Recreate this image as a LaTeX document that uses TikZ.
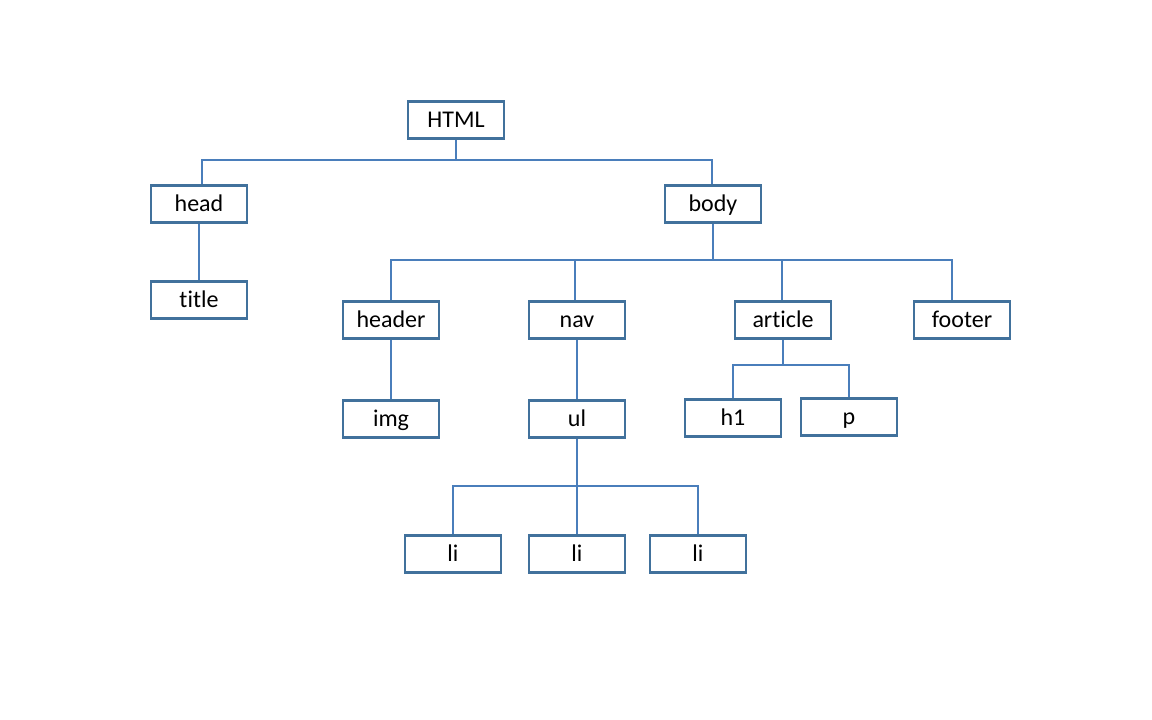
\documentclass[tikz,border=0pt]{standalone}
\usepackage{fontspec}
\setmainfont{Carlito}[RawFeature=-liga]
\definecolor{boxblue}{HTML}{41719C}
\definecolor{lineblue}{HTML}{4A7EBB}
\begin{document}
\begin{tikzpicture}[x=1pt,y=-1pt,
  tag/.style={draw=boxblue, line width=2.6pt, fill=white, minimum width=96pt, minimum height=37pt,
    inner sep=0pt, font=\fontsize{24}{28}\selectfont, text height=17pt, text depth=2pt},
  conn/.style={draw=lineblue, line width=1.1pt}]
\useasboundingbox (0,0) rectangle (1152,720);
\fill[white] (0,0) rectangle (1152,720);
% nodes
\node[tag] (html) at (456,120) {HTML};
\node[tag] (head) at (199,204) {head};
\node[tag] (body) at (713,204) {body};
\node[tag] (title) at (199,300) {title};
\node[tag] (header) at (391,320) {header};
\node[tag] (nav) at (577,320) {nav};
\node[tag] (article) at (783,320) {article};
\node[tag] (footer) at (962,320) {footer};
\node[tag] (img) at (391,419) {img};
\node[tag] (ul) at (577,419) {ul};
\node[tag] (h1) at (733,418) {h1};
\node[tag] (p) at (849,417) {p};
\node[tag] (li1) at (453,554) {li};
\node[tag] (li2) at (577,554) {li};
\node[tag] (li3) at (698,554) {li};
% bus coordinates
\coordinate (busA) at (0,160);
\coordinate (busB) at (0,260);
\coordinate (busC) at (0,365);
\coordinate (busD) at (0,486);
% html -> head, body
\draw[conn] (html.south) -- (html.south |- busA);
\draw[conn] (head.north -| 202,0) -- (202,160) -- (712,160) -- (body.north -| 712,0);
% head -> title
\draw[conn] (head.south) -- (title.north);
% body -> children
\draw[conn] (body.south) -- (body.south |- busB);
\draw[conn] (header.north) -- (header.north |- busB) -- (952,260) -- (footer.north -| 952,0);
\draw[conn] (nav.north -| 575,0) -- (575,260);
\draw[conn] (article.north -| 782,0) -- (782,260);
% header -> img, nav -> ul
\draw[conn] (header.south) -- (img.north);
\draw[conn] (nav.south) -- (ul.north);
% article -> h1, p
\draw[conn] (article.south) -- (article.south |- busC);
\draw[conn] (h1.north) -- (h1.north |- busC) -- (busC -| p.north) -- (p.north);
% ul -> li
\draw[conn] (ul.south) -- (li2.north);
\draw[conn] (li1.north) -- (li1.north |- busD) -- (busD -| li3.north) -- (li3.north);
\end{tikzpicture}
\end{document}
